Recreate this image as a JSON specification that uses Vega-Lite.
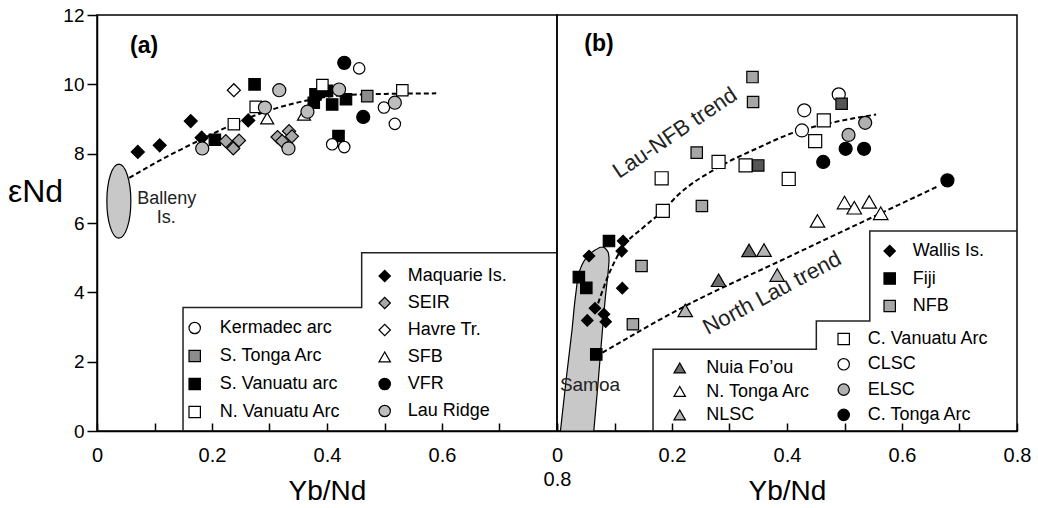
{
  "$schema": "https://vega.github.io/schema/vega-lite/v6.json",
  "background": "white",
  "padding": {"left": 6, "top": 5, "right": 5, "bottom": 0},
  "spacing": 0,
  "bounds": "flush",
  "config": {
    "view": {"stroke": "black", "strokeWidth": 1.5},
    "font": "Liberation Sans",
    "axis": {"domainColor": "black", "tickColor": "black", "labelColor": "black", "titleColor": "black", "domainWidth": 1.5, "tickWidth": 1.5, "grid": false, "labelFont": "Liberation Sans", "titleFont": "Liberation Sans", "titleFontWeight": "normal"},
    "legend": {"title": null, "orient": "none", "labelFontSize": 18, "labelFont": "Liberation Sans", "labelColor": "black", "symbolSize": 130, "symbolStrokeColor": "black", "symbolStrokeWidth": 1.2, "symbolOpacity": 1, "padding": 0, "labelLimit": 300}
  },
  "datasets": {
    "a1": [
      {"g": "S. Vanuatu arc", "x": 0.274, "y": 10.0},
      {"g": "S. Vanuatu arc", "x": 0.205, "y": 8.40},
      {"g": "S. Vanuatu arc", "x": 0.380, "y": 9.71},
      {"g": "S. Vanuatu arc", "x": 0.400, "y": 9.81},
      {"g": "S. Vanuatu arc", "x": 0.409, "y": 9.42},
      {"g": "S. Vanuatu arc", "x": 0.433, "y": 9.57},
      {"g": "S. Vanuatu arc", "x": 0.377, "y": 9.47},
      {"g": "S. Vanuatu arc", "x": 0.420, "y": 8.51},
      {"g": "N. Vanuatu Arc", "x": 0.276, "y": 9.35},
      {"g": "N. Vanuatu Arc", "x": 0.238, "y": 8.85},
      {"g": "N. Vanuatu Arc", "x": 0.392, "y": 9.98},
      {"g": "N. Vanuatu Arc", "x": 0.531, "y": 9.83},
      {"g": "S. Tonga Arc", "x": 0.470, "y": 9.66},
      {"g": "Kermadec arc", "x": 0.456, "y": 10.46},
      {"g": "Kermadec arc", "x": 0.499, "y": 9.33},
      {"g": "Kermadec arc", "x": 0.518, "y": 8.86},
      {"g": "Kermadec arc", "x": 0.409, "y": 8.27},
      {"g": "Kermadec arc", "x": 0.430, "y": 8.19}
    ],
    "a2": [
      {"g": "Maquarie Is.", "x": 0.071, "y": 8.05},
      {"g": "Maquarie Is.", "x": 0.109, "y": 8.24},
      {"g": "Maquarie Is.", "x": 0.163, "y": 8.94},
      {"g": "Maquarie Is.", "x": 0.182, "y": 8.46},
      {"g": "Maquarie Is.", "x": 0.263, "y": 8.96},
      {"g": "SEIR", "x": 0.224, "y": 8.36},
      {"g": "SEIR", "x": 0.247, "y": 8.38},
      {"g": "SEIR", "x": 0.237, "y": 8.15},
      {"g": "SEIR", "x": 0.314, "y": 8.48},
      {"g": "SEIR", "x": 0.334, "y": 8.65},
      {"g": "SEIR", "x": 0.339, "y": 8.50},
      {"g": "SEIR", "x": 0.322, "y": 8.36},
      {"g": "Havre Tr.", "x": 0.238, "y": 9.83},
      {"g": "SFB", "x": 0.296, "y": 9.02},
      {"g": "SFB", "x": 0.360, "y": 9.13},
      {"g": "VFR", "x": 0.430, "y": 10.62},
      {"g": "VFR", "x": 0.463, "y": 9.06},
      {"g": "Lau Ridge", "x": 0.317, "y": 9.83},
      {"g": "Lau Ridge", "x": 0.292, "y": 9.33},
      {"g": "Lau Ridge", "x": 0.183, "y": 8.15},
      {"g": "Lau Ridge", "x": 0.333, "y": 8.15},
      {"g": "Lau Ridge", "x": 0.366, "y": 9.21},
      {"g": "Lau Ridge", "x": 0.421, "y": 9.85},
      {"g": "Lau Ridge", "x": 0.518, "y": 9.47}
    ],
    "aTrend": [
      {"i": 1, "x": 0.056, "y": 7.3},
      {"i": 2, "x": 0.12, "y": 7.9},
      {"i": 3, "x": 0.18, "y": 8.4},
      {"i": 4, "x": 0.24, "y": 8.87},
      {"i": 5, "x": 0.30, "y": 9.25},
      {"i": 6, "x": 0.35, "y": 9.48},
      {"i": 7, "x": 0.44, "y": 9.7},
      {"i": 8, "x": 0.59, "y": 9.74}
    ],
    "aBox": [
      {"i": 1, "x": 0.1496, "y": 0},
      {"i": 2, "x": 0.1496, "y": 3.56},
      {"i": 3, "x": 0.4603, "y": 3.56},
      {"i": 4, "x": 0.4603, "y": 5.14},
      {"i": 5, "x": 0.8, "y": 5.14}
    ],
    "b1": [
      {"g": "NFB", "x": 0.340, "y": 10.21},
      {"g": "NFB", "x": 0.341, "y": 9.49},
      {"g": "NFB", "x": 0.243, "y": 8.03},
      {"g": "NFB", "x": 0.252, "y": 6.49},
      {"g": "NFB", "x": 0.147, "y": 4.76},
      {"g": "NFB", "x": 0.132, "y": 3.08},
      {"g": "Fiji dark", "x": 0.350, "y": 7.66},
      {"g": "Fiji dark", "x": 0.495, "y": 9.44},
      {"g": "Fiji", "x": 0.0904, "y": 5.48},
      {"g": "Fiji", "x": 0.038, "y": 4.44},
      {"g": "Fiji", "x": 0.051, "y": 4.13},
      {"g": "Fiji", "x": 0.0683, "y": 2.21},
      {"g": "Wallis Is.", "x": 0.115, "y": 5.48},
      {"g": "Wallis Is.", "x": 0.1125, "y": 5.19},
      {"g": "Wallis Is.", "x": 0.0557, "y": 5.05},
      {"g": "Wallis Is.", "x": 0.1136, "y": 4.12},
      {"g": "Wallis Is.", "x": 0.066, "y": 3.54},
      {"g": "Wallis Is.", "x": 0.0527, "y": 3.19},
      {"g": "Wallis Is.", "x": 0.0817, "y": 3.37},
      {"g": "Wallis Is.", "x": 0.0847, "y": 3.15}
    ],
    "b2": [
      {"g": "C. Vanuatu Arc", "x": 0.281, "y": 7.76},
      {"g": "C. Vanuatu Arc", "x": 0.328, "y": 7.66},
      {"g": "C. Vanuatu Arc", "x": 0.182, "y": 7.29},
      {"g": "C. Vanuatu Arc", "x": 0.184, "y": 6.35},
      {"g": "C. Vanuatu Arc", "x": 0.403, "y": 7.27},
      {"g": "C. Vanuatu Arc", "x": 0.464, "y": 8.96},
      {"g": "C. Vanuatu Arc", "x": 0.449, "y": 8.36},
      {"g": "CLSC", "x": 0.490, "y": 9.71},
      {"g": "CLSC", "x": 0.430, "y": 9.25},
      {"g": "CLSC", "x": 0.426, "y": 8.67},
      {"g": "ELSC", "x": 0.536, "y": 8.89},
      {"g": "ELSC", "x": 0.507, "y": 8.54},
      {"g": "C. Tonga Arc", "x": 0.502, "y": 8.14},
      {"g": "C. Tonga Arc", "x": 0.534, "y": 8.14},
      {"g": "C. Tonga Arc", "x": 0.463, "y": 7.76},
      {"g": "C. Tonga Arc", "x": 0.679, "y": 7.23}
    ],
    "b3": [
      {"g": "Nuia Fo’ou", "x": 0.334, "y": 5.21},
      {"g": "Nuia Fo’ou", "x": 0.281, "y": 4.35},
      {"g": "N. Tonga Arc", "x": 0.500, "y": 6.59},
      {"g": "N. Tonga Arc", "x": 0.517, "y": 6.44},
      {"g": "N. Tonga Arc", "x": 0.543, "y": 6.61},
      {"g": "N. Tonga Arc", "x": 0.563, "y": 6.28},
      {"g": "N. Tonga Arc", "x": 0.453, "y": 6.06},
      {"g": "NLSC", "x": 0.360, "y": 5.22},
      {"g": "NLSC", "x": 0.383, "y": 4.50},
      {"g": "NLSC", "x": 0.223, "y": 3.48}
    ],
    "bTrend": [
      {"k": "Lau-NFB", "i": 1, "x": 0.067, "y": 3.46},
      {"k": "Lau-NFB", "i": 2, "x": 0.09, "y": 4.52},
      {"k": "Lau-NFB", "i": 3, "x": 0.114, "y": 5.29},
      {"k": "Lau-NFB", "i": 4, "x": 0.15, "y": 5.87},
      {"k": "Lau-NFB", "i": 5, "x": 0.184, "y": 6.35},
      {"k": "Lau-NFB", "i": 6, "x": 0.21, "y": 6.8},
      {"k": "Lau-NFB", "i": 7, "x": 0.28, "y": 7.6},
      {"k": "Lau-NFB", "i": 8, "x": 0.35, "y": 8.17},
      {"k": "Lau-NFB", "i": 9, "x": 0.41, "y": 8.6},
      {"k": "Lau-NFB", "i": 10, "x": 0.48, "y": 8.9},
      {"k": "Lau-NFB", "i": 11, "x": 0.555, "y": 9.13},
      {"k": "North Lau", "i": 1, "x": 0.079, "y": 2.26},
      {"k": "North Lau", "i": 2, "x": 0.212, "y": 3.51},
      {"k": "North Lau", "i": 3, "x": 0.40, "y": 5.0},
      {"k": "North Lau", "i": 4, "x": 0.563, "y": 6.28},
      {"k": "North Lau", "i": 5, "x": 0.664, "y": 7.07}
    ],
    "bBox": [
      {"i": 1, "x": 0.167, "y": 0},
      {"i": 2, "x": 0.167, "y": 2.36},
      {"i": 3, "x": 0.451, "y": 2.36},
      {"i": 4, "x": 0.451, "y": 3.17},
      {"i": 5, "x": 0.544, "y": 3.17},
      {"i": 6, "x": 0.544, "y": 5.77},
      {"i": 7, "x": 0.8, "y": 5.77}
    ],
    "samoa": [
      {"y": 0, "x": 0.006, "x2": 0.064},
      {"y": 1.5, "x": 0.016, "x2": 0.072},
      {"y": 2.9, "x": 0.026, "x2": 0.079},
      {"y": 4.0, "x": 0.033, "x2": 0.085},
      {"y": 4.6, "x": 0.039, "x2": 0.089},
      {"y": 4.95, "x": 0.049, "x2": 0.0905},
      {"y": 5.15, "x": 0.060, "x2": 0.089},
      {"y": 5.3, "x": 0.075, "x2": 0.082}
    ]
  },
  "hconcat": [
    {
      "width": 460,
      "height": 416,
      "encoding": {
        "x": {"field": "x", "type": "quantitative", "scale": {"domain": [0, 0.8], "nice": false, "zero": false},
          "axis": {"title": "Yb/Nd", "values": [0, 0.1, 0.2, 0.3, 0.4, 0.5, 0.6, 0.7, 0.8],
            "labelExpr": "round(datum.value*10) % 2 != 0 ? '' : (round(datum.value*10) == 8 ? ['', '0.8'] : (datum.value == 0 ? '0' : format(datum.value, '.1f')))",
            "tickSize": -8, "labelPadding": 22, "labelFontSize": 20, "labelLineHeight": 24, "labelFlush": false, "labelOverlap": false, "labelBound": false,
            "titleFontSize": 28, "titleY": 68, "titleBaseline": "alphabetic"}},
        "y": {"field": "y", "type": "quantitative", "scale": {"domain": [0, 12], "nice": false},
          "axis": {"title": "εNd", "values": [0, 2, 4, 6, 8, 10, 12], "tickSize": 10, "labelPadding": 3, "labelFontSize": 19,
            "titleAngle": 0, "titleFontSize": 32, "titleX": -62, "titleY": 176, "titleAlign": "center", "titleBaseline": "middle"}}
      },
      "layer": [
        {
          "data": {"name": "aBox"},
          "mark": {"type": "line", "stroke": "#222222", "strokeWidth": 1.5},
          "encoding": {"order": {"field": "i", "type": "quantitative"}}
        },
        {
          "data": {"values": [{"x": 0.038, "y": 6.63}]},
          "mark": {"type": "point", "shape": "M 0 -1 C 0.179 -1 0.324 -0.552 0.324 0 C 0.324 0.552 0.179 1 0 1 C -0.179 1 -0.324 0.552 -0.324 0 C -0.324 -0.552 -0.179 -1 0 -1 Z", "size": 5476, "filled": true, "fill": "#c8c8c8", "stroke": "black", "strokeWidth": 1.2, "opacity": 1}
        },
        {
          "data": {"name": "aTrend"},
          "mark": {"type": "line", "stroke": "black", "strokeWidth": 2, "strokeDash": [5, 3], "interpolate": "monotone"},
          "encoding": {"order": {"field": "i", "type": "quantitative"}}
        },
        {
          "data": {"name": "a1"},
          "mark": {"type": "point", "filled": true, "strokeWidth": 1.2, "opacity": 1},
          "encoding": {
            "shape": {"field": "g", "type": "nominal",
              "scale": {"domain": ["Kermadec arc", "S. Tonga Arc", "S. Vanuatu arc", "N. Vanuatu Arc"], "range": ["circle", "square", "square", "square"]},
              "legend": {"legendX": 88.7, "legendY": 304, "rowPadding": 10, "labelOffset": 16}},
            "fill": {"field": "g", "type": "nominal",
              "scale": {"domain": ["Kermadec arc", "S. Tonga Arc", "S. Vanuatu arc", "N. Vanuatu Arc"], "range": ["white", "#8c8c8c", "black", "white"]},
              "legend": {"legendX": 88.7, "legendY": 304, "rowPadding": 10, "labelOffset": 16}},
            "stroke": {"field": "g", "type": "nominal",
              "scale": {"domain": ["Kermadec arc", "S. Tonga Arc", "S. Vanuatu arc", "N. Vanuatu Arc"], "range": ["black", "black", "black", "black"]},
              "legend": {"legendX": 88.7, "legendY": 304, "rowPadding": 10, "labelOffset": 16}},
            "size": {"field": "g", "type": "nominal",
              "scale": {"domain": ["N. Vanuatu Arc", "S. Vanuatu arc", "S. Tonga Arc", "Kermadec arc"], "range": [130, 130, 130, 170]}, "legend": null}
          }
        },
        {
          "data": {"name": "a2"},
          "mark": {"type": "point", "filled": true, "strokeWidth": 1.2, "opacity": 1},
          "encoding": {
            "shape": {"field": "g", "type": "nominal",
              "scale": {"domain": ["Maquarie Is.", "SEIR", "Havre Tr.", "SFB", "VFR", "Lau Ridge"], "range": ["diamond", "diamond", "diamond", "triangle-up", "circle", "circle"]},
              "legend": {"legendX": 278.7, "legendY": 252, "rowPadding": 9, "labelOffset": 14}},
            "fill": {"field": "g", "type": "nominal",
              "scale": {"domain": ["Maquarie Is.", "SEIR", "Havre Tr.", "SFB", "VFR", "Lau Ridge"], "range": ["black", "#a8a8a8", "white", "white", "black", "#bdbdbd"]},
              "legend": {"legendX": 278.7, "legendY": 252, "rowPadding": 9, "labelOffset": 14}},
            "stroke": {"field": "g", "type": "nominal",
              "scale": {"domain": ["Maquarie Is.", "SEIR", "Havre Tr.", "SFB", "VFR", "Lau Ridge"], "range": ["black", "black", "black", "black", "black", "black"]},
              "legend": {"legendX": 278.7, "legendY": 252, "rowPadding": 9, "labelOffset": 14}},
            "size": {"field": "g", "type": "nominal",
              "scale": {"domain": ["Lau Ridge", "VFR", "SFB", "Havre Tr.", "SEIR", "Maquarie Is."], "range": [170, 170, 200, 220, 220, 220]}, "legend": null}
          }
        },
        {
          "data": {"values": [{"x": 0.082, "y": 11.1, "t": "(a)"}]},
          "mark": {"type": "text", "font": "Liberation Sans", "fontSize": 23, "fontWeight": "bold", "align": "center", "baseline": "middle", "color": "black"},
          "encoding": {"text": {"field": "t"}}
        },
        {
          "data": {"values": [{"x": 0.07, "y": 6.69, "t": "Balleny"}, {"x": 0.104, "y": 6.14, "t": "Is."}]},
          "mark": {"type": "text", "font": "Liberation Sans", "fontSize": 18, "align": "left", "baseline": "middle", "color": "#222222"},
          "encoding": {"text": {"field": "t"}}
        }
      ],
      "resolve": {"scale": {"shape": "independent", "fill": "independent", "stroke": "independent", "size": "independent"}, "legend": {"shape": "independent", "fill": "independent", "stroke": "independent", "size": "independent"}}
    },
    {
      "width": 460,
      "height": 416,
      "encoding": {
        "x": {"field": "x", "type": "quantitative", "scale": {"domain": [0, 0.8], "nice": false, "zero": false},
          "axis": {"title": "Yb/Nd", "values": [0, 0.1, 0.2, 0.3, 0.4, 0.5, 0.6, 0.7, 0.8],
            "labelExpr": "round(datum.value*10) % 2 != 0 ? '' : (datum.value == 0 ? '0' : format(datum.value, '.1f'))",
            "tickSize": -8, "labelPadding": 22, "labelFontSize": 20, "labelFlush": false, "labelOverlap": false, "labelBound": false,
            "titleFontSize": 28, "titleY": 68, "titleBaseline": "alphabetic"}},
        "y": {"field": "y", "type": "quantitative", "scale": {"domain": [0, 12], "nice": false}, "axis": null}
      },
      "layer": [
        {
          "data": {"name": "bBox"},
          "mark": {"type": "line", "stroke": "#222222", "strokeWidth": 1.5},
          "encoding": {"order": {"field": "i", "type": "quantitative"}}
        },
        {
          "data": {"name": "samoa"},
          "mark": {"type": "area", "orient": "horizontal", "fill": "#c8c8c8", "stroke": "black", "strokeWidth": 1.2, "interpolate": "monotone", "opacity": 1},
          "encoding": {"x2": {"field": "x2"}}
        },
        {
          "data": {"name": "bTrend"},
          "mark": {"type": "line", "stroke": "black", "strokeWidth": 2, "strokeDash": [5, 3], "interpolate": "monotone"},
          "encoding": {"detail": {"field": "k"}, "order": {"field": "i", "type": "quantitative"}}
        },
        {
          "data": {"name": "b3"},
          "mark": {"type": "point", "filled": true, "strokeWidth": 1.2, "opacity": 1},
          "encoding": {
            "shape": {"field": "g", "type": "nominal",
              "scale": {"domain": ["Nuia Fo’ou", "N. Tonga Arc", "NLSC"], "range": ["triangle-up", "triangle-up", "triangle-up"]},
              "legend": {"legendX": 113.7, "legendY": 344, "rowPadding": 5.5, "labelOffset": 17.6}},
            "fill": {"field": "g", "type": "nominal",
              "scale": {"domain": ["Nuia Fo’ou", "N. Tonga Arc", "NLSC"], "range": ["#6e6e6e", "white", "#b5b5b5"]},
              "legend": {"legendX": 113.7, "legendY": 344, "rowPadding": 5.5, "labelOffset": 17.6}},
            "stroke": {"field": "g", "type": "nominal",
              "scale": {"domain": ["Nuia Fo’ou", "N. Tonga Arc", "NLSC"], "range": ["black", "black", "black"]},
              "legend": {"legendX": 113.7, "legendY": 344, "rowPadding": 5.5, "labelOffset": 17.6}},
            "size": {"field": "g", "type": "nominal",
              "scale": {"domain": ["NLSC", "N. Tonga Arc", "Nuia Fo’ou"], "range": [210, 210, 210]}, "legend": null}
          }
        },
        {
          "data": {"name": "b2"},
          "mark": {"type": "point", "filled": true, "strokeWidth": 1.2, "opacity": 1},
          "encoding": {
            "shape": {"field": "g", "type": "nominal",
              "scale": {"domain": ["C. Vanuatu Arc", "CLSC", "ELSC", "C. Tonga Arc"], "range": ["square", "circle", "circle", "circle"]},
              "legend": {"legendX": 277.7, "legendY": 315, "rowPadding": 7.3, "labelOffset": 15}},
            "fill": {"field": "g", "type": "nominal",
              "scale": {"domain": ["C. Vanuatu Arc", "CLSC", "ELSC", "C. Tonga Arc"], "range": ["white", "white", "#b0b0b0", "black"]},
              "legend": {"legendX": 277.7, "legendY": 315, "rowPadding": 7.3, "labelOffset": 15}},
            "stroke": {"field": "g", "type": "nominal",
              "scale": {"domain": ["C. Vanuatu Arc", "CLSC", "ELSC", "C. Tonga Arc"], "range": ["black", "black", "black", "black"]},
              "legend": {"legendX": 277.7, "legendY": 315, "rowPadding": 7.3, "labelOffset": 15}},
            "size": {"field": "g", "type": "nominal",
              "scale": {"domain": ["C. Tonga Arc", "ELSC", "CLSC", "C. Vanuatu Arc"], "range": [170, 170, 170, 130]}, "legend": null}
          }
        },
        {
          "data": {"name": "b1"},
          "mark": {"type": "point", "filled": true, "strokeWidth": 1.2, "opacity": 1},
          "encoding": {
            "shape": {"field": "g", "type": "nominal",
              "scale": {"domain": ["Wallis Is.", "Fiji", "NFB", "Fiji dark"], "range": ["diamond", "square", "square", "square"]},
              "legend": {"legendX": 323.7, "legendY": 227, "values": ["Wallis Is.", "Fiji", "NFB"], "rowPadding": 9.5, "labelOffset": 14}},
            "fill": {"field": "g", "type": "nominal",
              "scale": {"domain": ["Wallis Is.", "Fiji", "NFB", "Fiji dark"], "range": ["black", "black", "#a6a6a6", "#555555"]},
              "legend": {"legendX": 323.7, "legendY": 227, "values": ["Wallis Is.", "Fiji", "NFB"], "rowPadding": 9.5, "labelOffset": 14}},
            "stroke": {"field": "g", "type": "nominal",
              "scale": {"domain": ["Wallis Is.", "Fiji", "NFB", "Fiji dark"], "range": ["black", "black", "black", "black"]},
              "legend": {"legendX": 323.7, "legendY": 227, "values": ["Wallis Is.", "Fiji", "NFB"], "rowPadding": 9.5, "labelOffset": 14}},
            "size": {"field": "g", "type": "nominal",
              "scale": {"domain": ["Fiji dark", "NFB", "Fiji", "Wallis Is."], "range": [130, 130, 130, 220]}, "legend": null}
          }
        },
        {
          "data": {"values": [{"x": 0.073, "y": 11.16, "t": "(b)"}]},
          "mark": {"type": "text", "font": "Liberation Sans", "fontSize": 23, "fontWeight": "bold", "align": "center", "baseline": "middle", "color": "black"},
          "encoding": {"text": {"field": "t"}}
        },
        {
          "data": {"values": [{"x": 0.005, "y": 1.33, "t": "Samoa"}]},
          "mark": {"type": "text", "font": "Liberation Sans", "fontSize": 19, "align": "left", "baseline": "middle", "color": "#222222"},
          "encoding": {"text": {"field": "t"}}
        },
        {
          "data": {"values": [{"x": 0.205, "y": 8.6, "t": "Lau-NFB trend"}]},
          "mark": {"type": "text", "font": "Liberation Sans", "fontSize": 22, "align": "center", "baseline": "middle", "angle": 326, "color": "#222222"},
          "encoding": {"text": {"field": "t"}}
        },
        {
          "data": {"values": [{"x": 0.374, "y": 3.98, "t": "North Lau trend"}]},
          "mark": {"type": "text", "font": "Liberation Sans", "fontSize": 22, "align": "center", "baseline": "middle", "angle": 332, "color": "#222222"},
          "encoding": {"text": {"field": "t"}}
        }
      ],
      "resolve": {"scale": {"shape": "independent", "fill": "independent", "stroke": "independent", "size": "independent"}, "legend": {"shape": "independent", "fill": "independent", "stroke": "independent", "size": "independent"}}
    }
  ]
}
